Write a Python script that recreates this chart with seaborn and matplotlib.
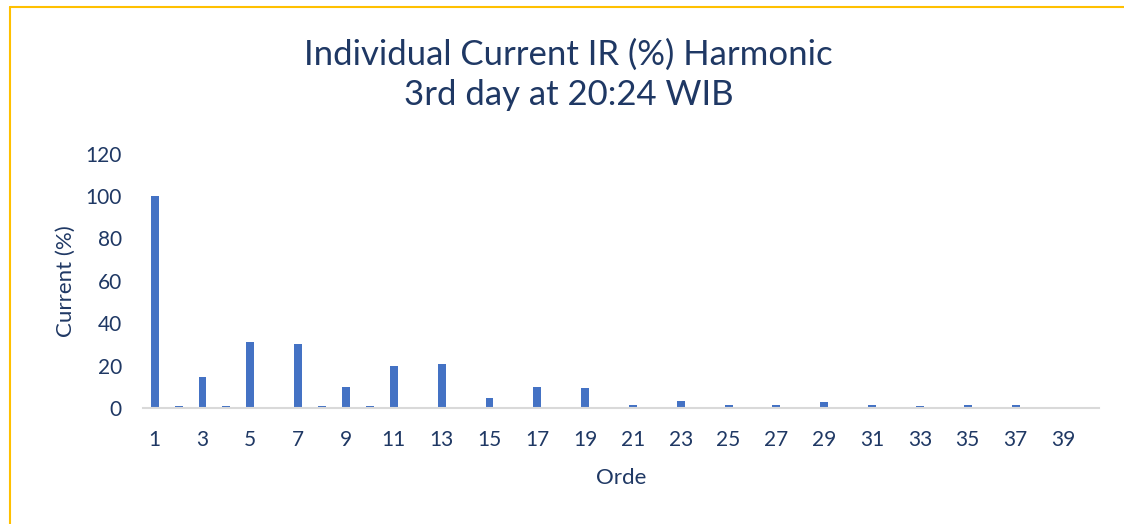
import pandas as pd
import seaborn as sns
import matplotlib.pyplot as plt
from matplotlib.lines import Line2D

# harmonic orders 1..40 and their current (%)
orders = [str(i) for i in range(1, 41)]
current = [100, 1.2, 14.8, 1.2, 31.0, 0, 30.3, 1.2, 9.9, 0.8,
           20.1, 0, 20.6, 0.5, 4.7, 0, 9.8, 0.3, 9.3, 0,
           1.3, 0, 3.4, 0, 1.7, 0, 1.3, 0, 2.8, 0,
           1.7, 0, 0.8, 0, 1.7, 0, 1.5, 0, 0, 0]
tick_labels = [str(i) if i % 2 == 1 else '' for i in range(1, 41)]

df = pd.DataFrame({'Orde': orders, 'Current': current})

sns.set_style('white')
plt.rcParams['font.family'] = ['Lato', 'DejaVu Sans']
navy = '#1F3864'

fig = plt.figure(figsize=(11.24, 5.24), dpi=100)
ax = fig.add_axes([0.127, 0.221, 0.851, 0.486])

sns.barplot(data=df, x='Orde', y='Current', order=orders, color='#4472C4',
            saturation=1, width=0.33, linewidth=0, ax=ax)

ax.set_ylim(0, 120)
ax.set_yticks(range(0, 121, 20))
ax.set_xlim(-0.5, 39.5)
ax.set_xticks(range(40))
ax.set_xticklabels(tick_labels)
ax.tick_params(axis='both', length=0, labelsize=15, labelcolor=navy)
ax.tick_params(axis='y', pad=15)
ax.tick_params(axis='x', pad=16)
for s in ['top', 'right', 'left']:
    ax.spines[s].set_visible(False)
ax.spines['bottom'].set_color('#D9D9D9')
ax.spines['bottom'].set_linewidth(1.5)

ax.set_xlabel('Orde', fontsize=16, color=navy, labelpad=13)
ax.set_ylabel('Current (%)', fontsize=16, color=navy, labelpad=7)

fig.text(0.506, 0.857, 'Individual Current IR (%) Harmonic\n3rd day at 20:24 WIB',
         ha='center', va='center', fontsize=25, color=navy, linespacing=1.3)

# yellow frame (top and left edges)
fig.add_artist(Line2D([10 / 1124, 10 / 1124], [0, 1 - 7 / 524], color='#FFC000', lw=1.5))
fig.add_artist(Line2D([10 / 1124, 1], [1 - 7 / 524, 1 - 7 / 524], color='#FFC000', lw=1.5))

fig.savefig('out.png', dpi=100)
